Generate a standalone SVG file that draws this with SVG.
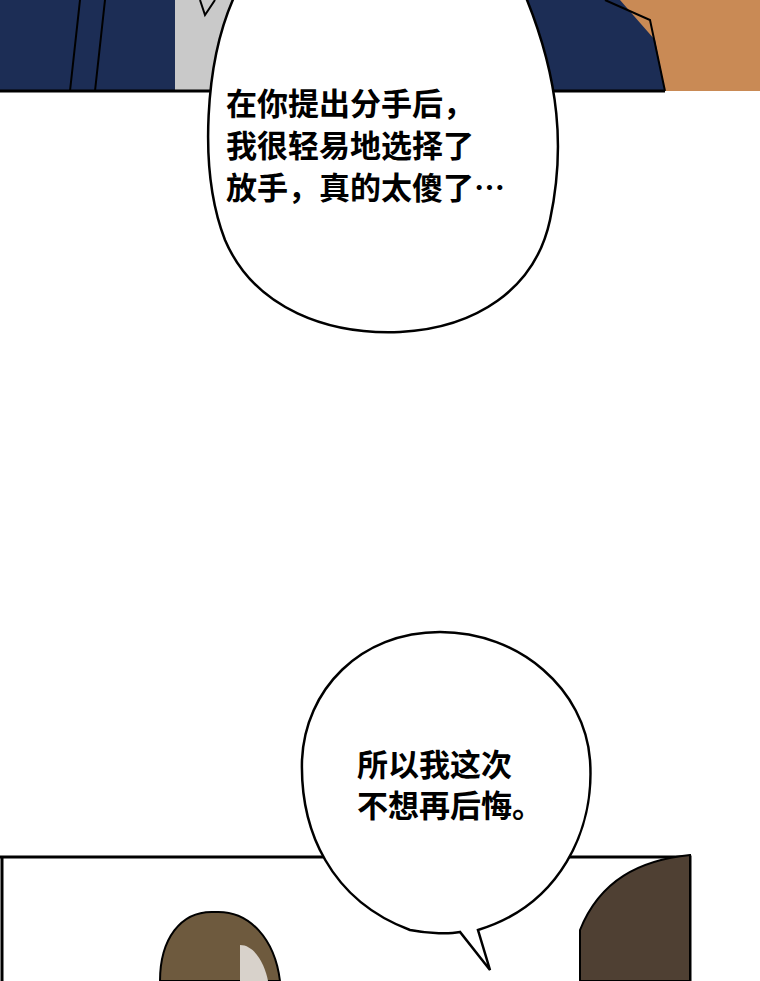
<svg xmlns="http://www.w3.org/2000/svg" width="760" height="981" viewBox="0 0 760 981">
<style>
.b{fill:#fff;stroke:#000;stroke-width:2.5}
.t{font-family:"Noto Sans CJK SC",sans-serif;font-weight:bold;font-size:31px;fill:#000}
.ln{fill:none;stroke:#000;stroke-width:2}
</style>
<rect width="760" height="981" fill="#fff"/>
<g id="panel-top">
<rect x="0" y="0" width="760" height="91" fill="#1c2d55"/>
<rect x="175" y="0" width="75" height="91" fill="#c9c9c9"/>
<path d="M620 0 L760 0 L760 91 L665 91 L655 40 Z" fill="#c98a55"/>
<path d="M605 0 L650 20 L665 91" class="ln"/>
<path d="M80 0 L70 91 M105 0 L95 91" class="ln"/>
<path d="M200 0 L205 15 L215 0" class="ln"/>
<line x1="0" y1="91" x2="665" y2="91" stroke="#000" stroke-width="3"/>
</g>
<g id="bubble1">
<path class="b" d="M235 -5 C205 60 198 170 225 240 C255 310 330 335 400 332 C475 328 535 290 550 220 C565 150 560 80 525 -5 Z"/>
<text class="t" x="226" y="115">在你提出分手后，</text>
<text class="t" x="226" y="157">我很轻易地选择了</text>
<text class="t" x="226" y="199">放手，真的太傻了…</text>
</g>
<g id="panel-bottom">
<path d="M0 857 L690 857 L690 981 M2 857 L2 981" fill="none" stroke="#000" stroke-width="3"/>
<path d="M160 981 C160 940 180 910 215 912 C250 910 275 940 280 981 Z" fill="#6e5a3e" stroke="#000" stroke-width="2"/>
<path d="M240 945 C255 945 265 965 268 981 L240 981 Z" fill="#d8d2cb"/>
<path d="M690 855 C640 860 600 880 580 930 L580 981 L690 981 Z" fill="#4f4033" stroke="#000" stroke-width="2"/>
</g>
<g id="bubble2">
<path class="b" d="M440 632 C360 632 305 690 302 760 C300 830 330 900 410 930 C430 934 450 934 460 932 L490 970 L478 930 C560 905 595 830 590 760 C585 690 520 632 440 632 Z"/>
<text class="t" x="357" y="776">所以我这次</text>
<text class="t" x="357" y="817">不想再后悔。</text>
</g>
</svg>
